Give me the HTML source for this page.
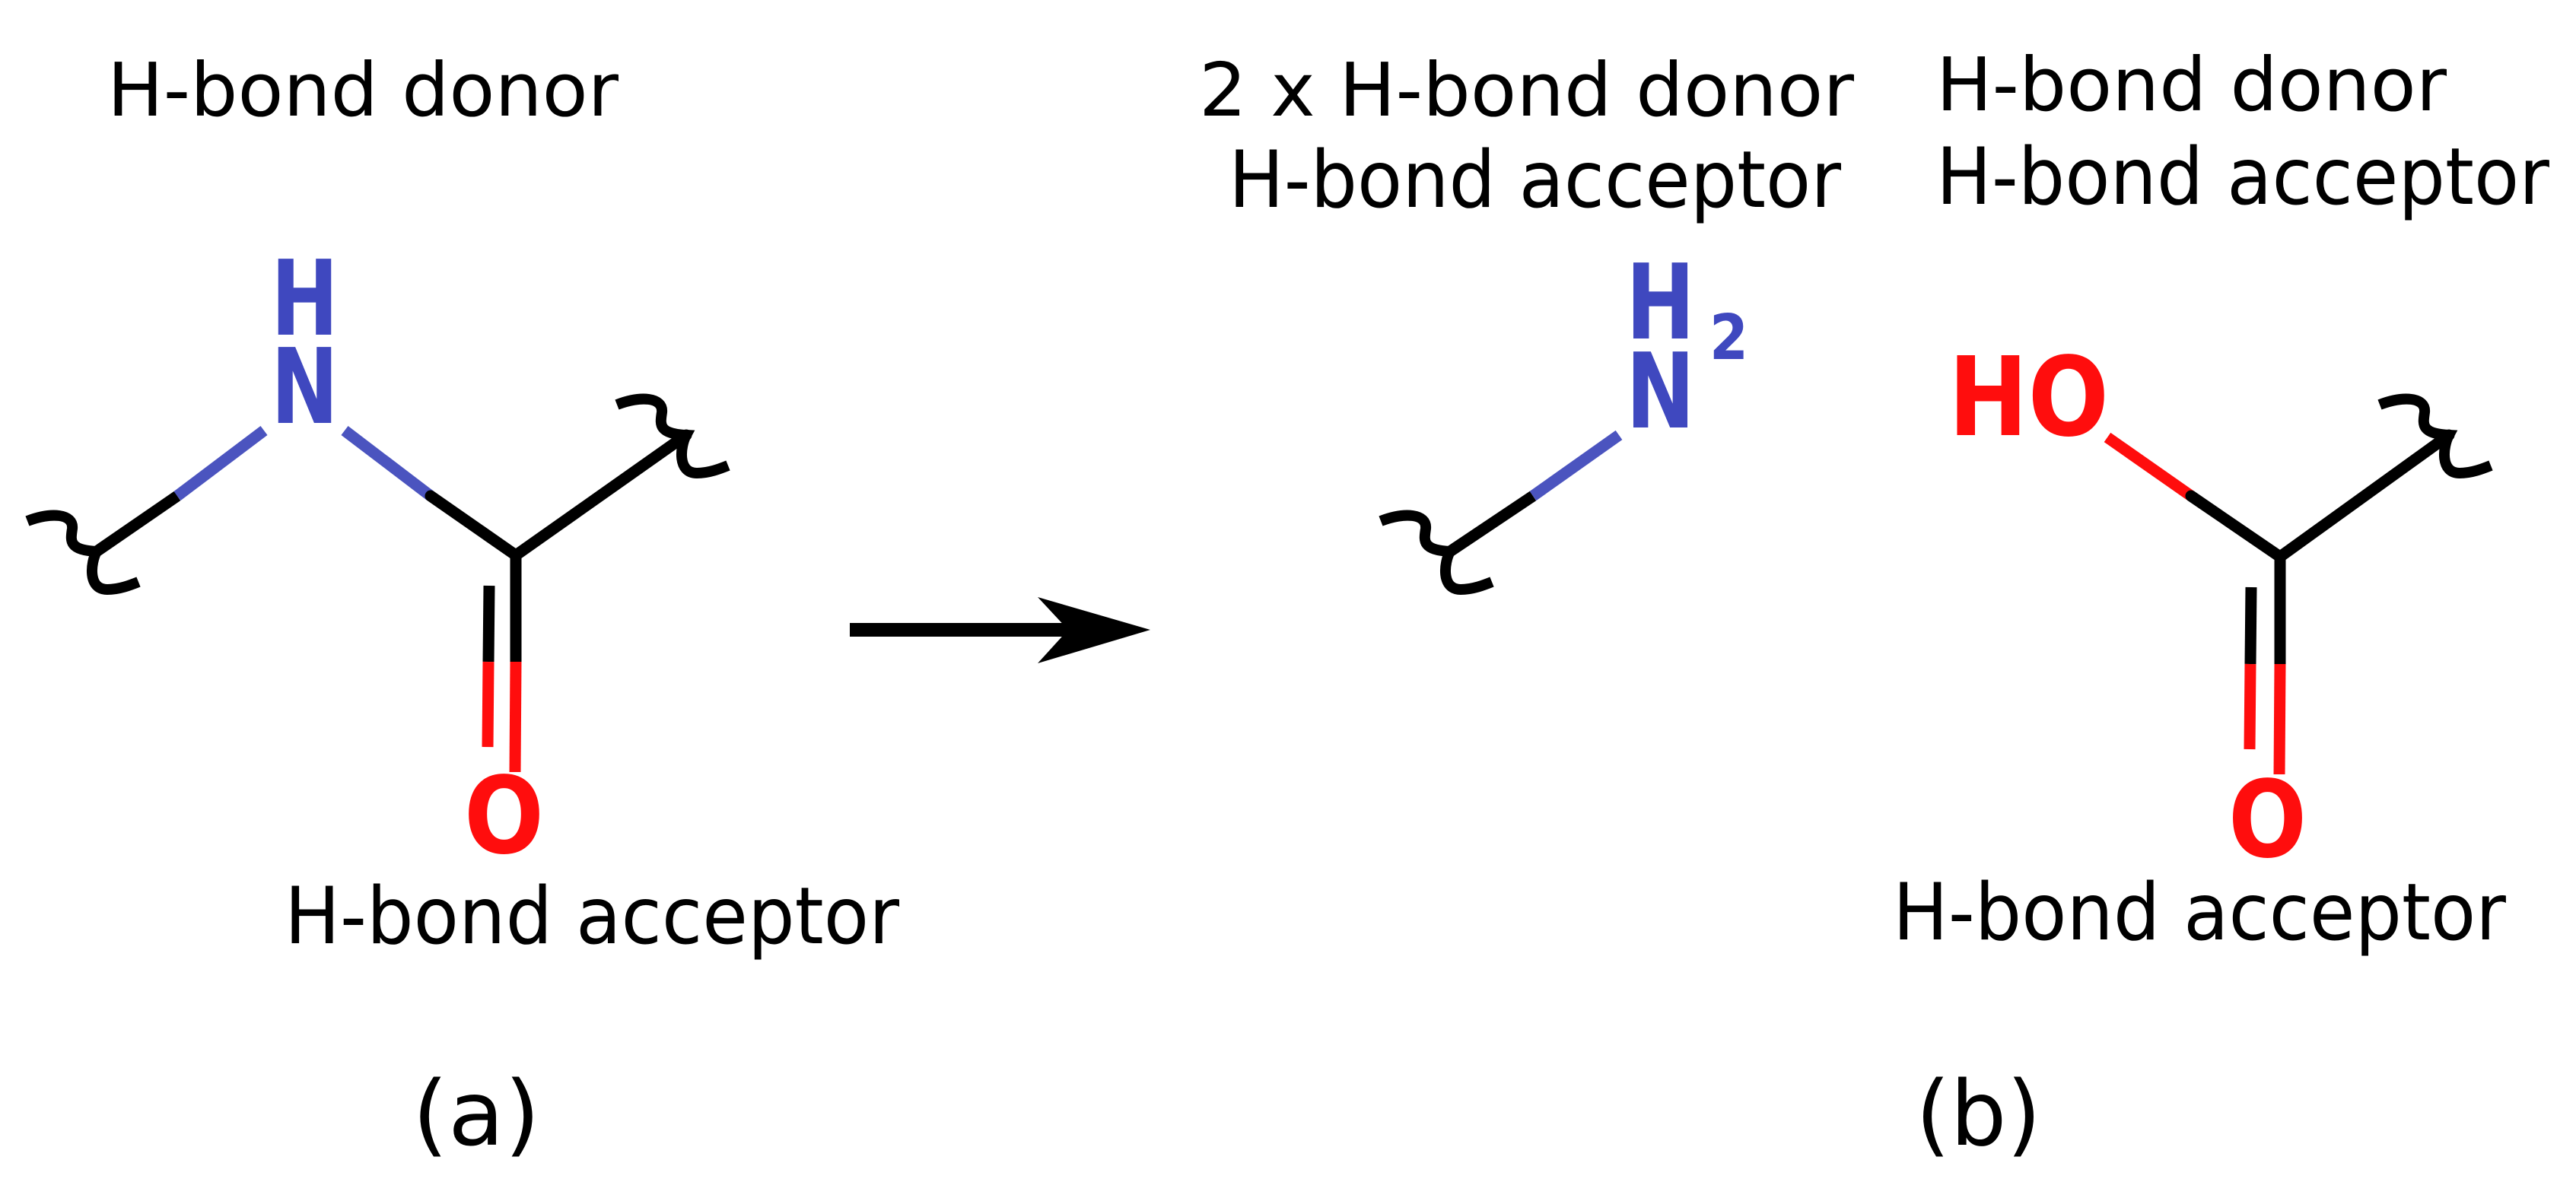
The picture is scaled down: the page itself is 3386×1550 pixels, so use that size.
<!DOCTYPE html>
<html><head><meta charset="utf-8"><style>html,body{margin:0;padding:0;background:#fff}svg{display:block}</style></head>
<body>
<svg width="3386" height="1550" viewBox="0 0 3386 1550" xmlns="http://www.w3.org/2000/svg">
<defs>
<path id="sq" d="M -91 -40 C -60 -52 -30 -50 -32 -30 C -34 -15 -38 -2 0 0 C -8 15 -12 50 14 50 C 30 50 45 44 55 40" fill="none" stroke="#000" stroke-width="14"/>
</defs>
<g font-family="'DejaVu Sans','Liberation Sans',sans-serif" fill="#000">
<text x="141" y="152" font-size="97" textLength="672" lengthAdjust="spacingAndGlyphs">H-bond donor</text>
<text x="374" y="1240" font-size="103" textLength="808" lengthAdjust="spacingAndGlyphs">H-bond acceptor</text>
<text x="542" y="1505" font-size="118" textLength="168" lengthAdjust="spacingAndGlyphs">(a)</text>
<text x="1576" y="152" font-size="97" textLength="861" lengthAdjust="spacingAndGlyphs">2 x H-bond donor</text>
<text x="1615" y="272" font-size="103" textLength="805" lengthAdjust="spacingAndGlyphs">H-bond acceptor</text>
<text x="2545" y="145" font-size="97" textLength="671" lengthAdjust="spacingAndGlyphs">H-bond donor</text>
<text x="2545" y="268" font-size="103" textLength="806" lengthAdjust="spacingAndGlyphs">H-bond acceptor</text>
<text x="2488" y="1235" font-size="103" textLength="806" lengthAdjust="spacingAndGlyphs">H-bond acceptor</text>
<text x="2518" y="1505" font-size="118" textLength="165" lengthAdjust="spacingAndGlyphs">(b)</text>
</g>
<g font-family="'DejaVu Sans','Liberation Sans',sans-serif" font-weight="bold">
<text x="356" y="440" font-size="137" fill="#3F48BF" textLength="89" lengthAdjust="spacingAndGlyphs">H</text>
<text x="356" y="556" font-size="137" fill="#3F48BF" textLength="89" lengthAdjust="spacingAndGlyphs">N</text>
<text x="610" y="1121" font-size="140" fill="#FF0D0D" textLength="105" lengthAdjust="spacingAndGlyphs">O</text>
<text x="2137" y="445" font-size="137" fill="#3F48BF" textLength="91" lengthAdjust="spacingAndGlyphs">H</text>
<text x="2247" y="472" font-size="82" fill="#3F48BF" textLength="51" lengthAdjust="spacingAndGlyphs">2</text>
<text x="2137" y="562" font-size="137" fill="#3F48BF" textLength="91" lengthAdjust="spacingAndGlyphs">N</text>
<text x="2561" y="572" font-size="144" fill="#FF0D0D" textLength="211" lengthAdjust="spacingAndGlyphs">HO</text>
<text x="2929" y="1126" font-size="140" fill="#FF0D0D" textLength="103" lengthAdjust="spacingAndGlyphs">O</text>
</g>
<g stroke-width="15" fill="none" stroke-linecap="butt">
<line x1="127" y1="725" x2="233" y2="652" stroke="#000"/>
<line x1="233" y1="652" x2="347" y2="566" stroke="#4B54BF"/>
<line x1="453" y1="566" x2="566" y2="652" stroke="#4B54BF"/>
<line x1="566" y1="652" x2="678" y2="730" stroke="#000" stroke-linecap="round"/>
<line x1="678" y1="730" x2="902" y2="572" stroke="#000" stroke-linecap="round"/>
<line x1="678" y1="730" x2="678" y2="870" stroke="#000"/>
<line x1="678" y1="870" x2="677" y2="1015" stroke="#FF0D0D"/>
<line x1="643" y1="770" x2="642" y2="870" stroke="#000"/>
<line x1="642" y1="870" x2="641" y2="982" stroke="#FF0D0D"/>
<line x1="1906" y1="725" x2="2015" y2="652" stroke="#000"/>
<line x1="2015" y1="652" x2="2128" y2="572" stroke="#4B54BF"/>
<line x1="2770" y1="575" x2="2880" y2="652" stroke="#FF0D0D"/>
<line x1="2880" y1="652" x2="2997" y2="732" stroke="#000" stroke-linecap="round"/>
<line x1="2997" y1="732" x2="3219" y2="572" stroke="#000" stroke-linecap="round"/>
<line x1="2997" y1="732" x2="2997" y2="873" stroke="#000"/>
<line x1="2997" y1="873" x2="2996" y2="1018" stroke="#FF0D0D"/>
<line x1="2959" y1="772" x2="2958" y2="873" stroke="#000"/>
<line x1="2958" y1="873" x2="2957" y2="985" stroke="#FF0D0D"/>
</g>
<use href="#sq" transform="translate(127,725)"/>
<use href="#sq" transform="translate(902,572)"/>
<use href="#sq" transform="translate(1906,725)"/>
<use href="#sq" transform="translate(3219,572)"/>
<line x1="1117" y1="828" x2="1420" y2="828" stroke="#000" stroke-width="18"/>
<polygon points="1512,828 1364,785 1404,828 1364,872" fill="#000"/>
</svg>
</body></html>
